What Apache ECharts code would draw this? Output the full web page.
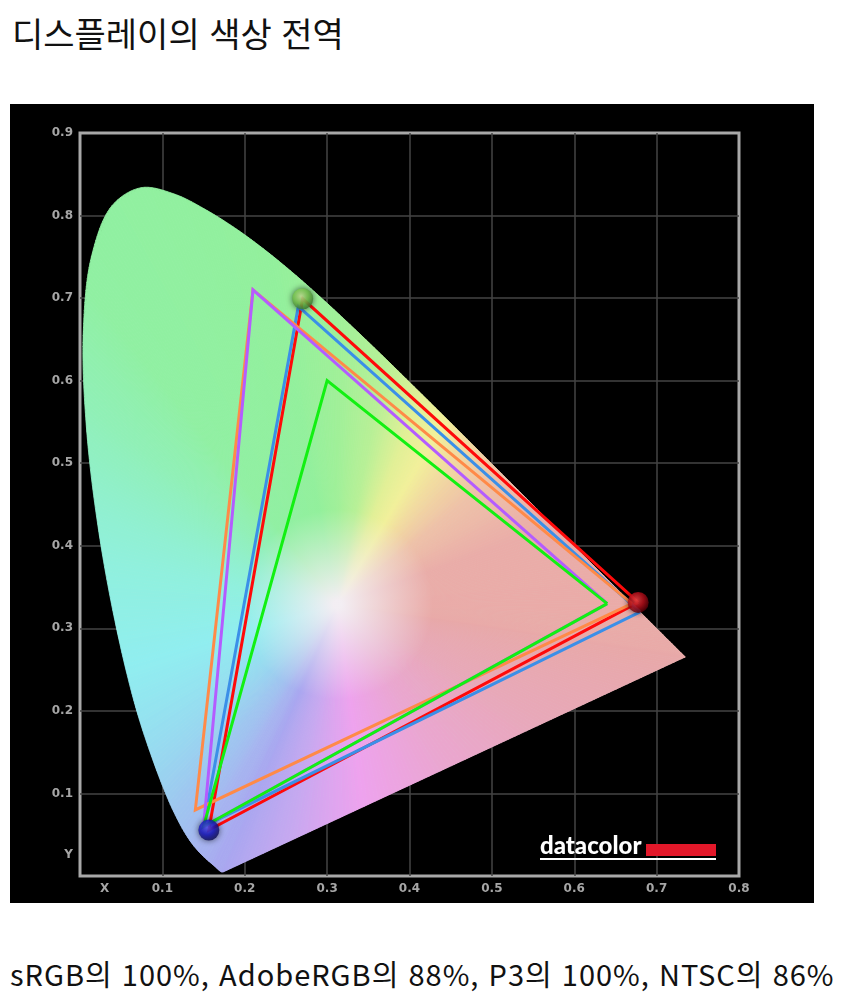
<!DOCTYPE html>
<html lang="ko">
<head>
<meta charset="utf-8">
<title>디스플레이의 색상 전역</title>
<script src="https://cdn.jsdelivr.net/npm/echarts@6/dist/echarts.min.js"></script>
<style>
  html, body { margin: 0; padding: 0; background: #fff; }
  body { width: 845px; height: 1008px; position: relative; overflow: hidden; font-family: "Noto Sans CJK KR", sans-serif; color: #111; }
  #title { position: absolute; left: 12px; top: 10px; font-size: 34px; line-height: 46px; white-space: nowrap; }
  #chart { position: absolute; left: 10px; top: 104px; width: 804px; height: 799px; background: #000; }
  #note { position: absolute; left: 10px; top: 953px; font-size: 29px; line-height: 40px; letter-spacing: 1px; white-space: nowrap; }
</style>
</head>
<body>
<div id="title">디스플레이의 색상 전역</div>
<div id="chart"></div>
<div id="note">sRGB의 100%, AdobeRGB의 88%, P3의 100%, NTSC의 86%</div>
<script>
// CIE 1931 spectral locus, 5 nm steps
const locusNm = [380, 385, 390, 395, 400, 405, 410, 415, 420, 425, 430, 435, 440, 445, 450, 455, 460, 465,
  470, 475, 480, 485, 490, 495, 500, 505, 510, 515, 520, 525, 530, 535, 540, 545, 550, 555, 560, 565,
  570, 575, 580, 585, 590, 595, 600, 605, 610, 615, 620, 625, 630, 635, 640, 645, 650, 655, 660, 665,
  670, 675, 680, 685, 690, 695, 700]
const locusX = [0.1741, 0.1740, 0.1738, 0.1736, 0.1733, 0.1730, 0.1726, 0.1721, 0.1714,
  0.1703, 0.1689, 0.1669, 0.1644, 0.1611, 0.1566, 0.1510, 0.1440, 0.1355,
  0.1241, 0.1096, 0.0913, 0.0687, 0.0454, 0.0235, 0.0082, 0.0039, 0.0139,
  0.0389, 0.0743, 0.1142, 0.1547, 0.1929, 0.2296, 0.2658, 0.3016, 0.3373,
  0.3731, 0.4087, 0.4441, 0.4788, 0.5125, 0.5448, 0.5752, 0.6029, 0.6270,
  0.6482, 0.6658, 0.6801, 0.6915, 0.7006, 0.7079, 0.7140, 0.7190, 0.7230,
  0.7260, 0.7283, 0.7300, 0.7311, 0.7320, 0.7327, 0.7334, 0.7340, 0.7344,
  0.7346, 0.7347]
const locusY = [0.0050, 0.0050, 0.0049, 0.0049, 0.0048, 0.0048, 0.0048, 0.0048, 0.0051,
  0.0058, 0.0069, 0.0086, 0.0109, 0.0138, 0.0177, 0.0227, 0.0297, 0.0399,
  0.0578, 0.0868, 0.1327, 0.2007, 0.2950, 0.4127, 0.5384, 0.6548, 0.7502,
  0.8120, 0.8338, 0.8262, 0.8059, 0.7816, 0.7543, 0.7243, 0.6923, 0.6589,
  0.6245, 0.5896, 0.5547, 0.5202, 0.4866, 0.4544, 0.4242, 0.3965, 0.3725,
  0.3514, 0.3340, 0.3197, 0.3083, 0.2993, 0.2920, 0.2859, 0.2809, 0.2770,
  0.2740, 0.2717, 0.2700, 0.2689, 0.2680, 0.2673, 0.2666, 0.2660, 0.2656,
  0.2654, 0.2653]
const whitePoint = [0.3127, 0.3290]

// gamut triangles, R / G / B corners
const measuredX = [0.6776, 0.2703, 0.1564]
const measuredY = [0.3314, 0.6992, 0.0556]
const p3X = [0.680, 0.265, 0.150]
const p3Y = [0.320, 0.690, 0.060]
const ntscX = [0.670, 0.210, 0.140]
const ntscY = [0.330, 0.710, 0.080]
const adobeX = [0.640, 0.210, 0.150]
const adobeY = [0.330, 0.710, 0.060]
const srgbX = [0.640, 0.300, 0.150]
const srgbY = [0.330, 0.600, 0.060]

const xTicks = [0.03, 0.1, 0.2, 0.3, 0.4, 0.5, 0.6, 0.7, 0.8]
const xTickLabels = ['X', '0.1', '0.2', '0.3', '0.4', '0.5', '0.6', '0.7', '0.8']
const yTicks = [0.025, 0.1, 0.2, 0.3, 0.4, 0.5, 0.6, 0.7, 0.8, 0.9]
const yTickLabels = ['Y', '0.1', '0.2', '0.3', '0.4', '0.5', '0.6', '0.7', '0.8', '0.9']

// fill colours along the outline (nm on the locus, 700..800 along the purple line back to 380)
const hueStops = [
  [380, '#aaa6f0'], [440, '#a8a8f0'], [462, '#a6b4f0'], [474, '#9ec6f0'], [482, '#96dcf0'],
  [488, '#90eef0'], [494, '#90f0dc'], [501, '#90f0b8'], [508, '#90f0a2'], [540, '#92f09c'],
  [552, '#a0f098'], [560, '#b8f096'], [566, '#e2f096'], [570, '#f2f09a'], [574, '#f2daa0'],
  [580, '#eec0a8'], [590, '#eaaca8'], [700, '#e8a8a8'], [730, '#e8a8b8'], [752, '#eaa6d0'],
  [770, '#eea2ee'], [786, '#c6a8f0'], [800, '#aaa6f0']
]
const centerColor = '#f3eef3'

function hexRgb(h) {
  return [parseInt(h.slice(1, 3), 16), parseInt(h.slice(3, 5), 16), parseInt(h.slice(5, 7), 16)]
}
function hueAt(t) {
  let i = 0
  while (i < hueStops.length - 2 && t > hueStops[i + 1][0]) i++
  const [t0, c0] = hueStops[i]
  const [t1, c1] = hueStops[i + 1]
  const f = Math.min(1, Math.max(0, (t - t0) / (t1 - t0)))
  const a = hexRgb(c0)
  const b = hexRgb(c1)
  return 'rgb(' + a.map((v, k) => Math.round(v + (b[k] - v) * f)).join(',') + ')'
}

// one fan item per outline segment: [x1, y1, x2, y2, t1, t2, prev x, prev y, next x, next y]
const fanData = []
const last = locusNm.length - 1
for (let i = 0; i < last; i++) {
  const p = Math.max(0, i - 1)
  const n = Math.min(last, i + 2)
  fanData.push([locusX[i], locusY[i], locusX[i + 1], locusY[i + 1], locusNm[i], locusNm[i + 1],
    locusX[p], locusY[p], locusX[n], locusY[n]])
}
fanData.push([locusX[last], locusY[last], locusX[0], locusY[0], 700, 800,
  locusX[last], locusY[last], locusX[0], locusY[0]])

// centripetal Catmull-Rom between p1 and p2 so the outline is drawn as a smooth curve
function curvePoint(p0, p1, p2, p3, u) {
  const d = (a, b) => Math.pow(Math.hypot(b[0] - a[0], b[1] - a[1]), 0.5) + 1e-4
  const t0 = 0
  const t1 = t0 + d(p0, p1)
  const t2 = t1 + d(p1, p2)
  const t3 = t2 + d(p2, p3)
  const t = t1 + (t2 - t1) * u
  const mix = (a, b, ta, tb) => [
    (tb - t) / (tb - ta) * a[0] + (t - ta) / (tb - ta) * b[0],
    (tb - t) / (tb - ta) * a[1] + (t - ta) / (tb - ta) * b[1]
  ]
  const a1 = mix(p0, p1, t0, t1)
  const a2 = mix(p1, p2, t1, t2)
  const a3 = mix(p2, p3, t2, t3)
  const b1 = mix(a1, a2, t0, t2)
  const b2 = mix(a2, a3, t1, t3)
  return mix(b1, b2, t1, t2)
}

function renderFan(params, api) {
  const a = api.coord([api.value(0), api.value(1)])
  const b = api.coord([api.value(2), api.value(3)])
  let p = api.coord([api.value(6), api.value(7)])
  let q = api.coord([api.value(8), api.value(9)])
  if (Math.hypot(p[0] - a[0], p[1] - a[1]) < 1e-6) p = [2 * a[0] - b[0], 2 * a[1] - b[1]]
  if (Math.hypot(q[0] - b[0], q[1] - b[1]) < 1e-6) q = [2 * b[0] - a[0], 2 * b[1] - a[1]]
  const c = api.coord(whitePoint)
  const t1 = api.value(4)
  const t2 = api.value(5)
  const n = Math.max(1, Math.ceil(Math.hypot(b[0] - a[0], b[1] - a[1]) / 4))
  const children = []
  let prev = a
  for (let k = 0; k < n; k++) {
    const f1 = (k + 1) / n
    const next = k === n - 1 ? b : curvePoint(p, a, b, q, f1)
    const m = [(prev[0] + next[0]) / 2, (prev[1] + next[1]) / 2]
    const len = Math.hypot(m[0] - c[0], m[1] - c[1]) || 1
    const edge = hueAt(t1 + (t2 - t1) * (k + 0.5) / n)
    const grad = new echarts.graphic.LinearGradient(c[0], c[1], m[0], m[1], [
      { offset: 0, color: centerColor },
      { offset: Math.min(0.4, 4 / len), color: centerColor },
      { offset: Math.min(0.97, 95 / len), color: edge },
      { offset: 1, color: edge }
    ], true)
    children.push({
      type: 'polygon',
      shape: { points: [c, prev, next] },
      style: { fill: grad, stroke: grad, lineWidth: 0.8 }
    })
    prev = next
  }
  return { type: 'group', children }
}

function renderBase(params, api) {
  const pts = locusX.map((x, i) => api.coord([x, locusY[i]]))
  return { type: 'polygon', shape: { points: pts }, style: { fill: '#cfe8d8' } }
}

function tri(xs, ys) {
  return [0, 1, 2, 0].map(i => [xs[i], ys[i]])
}
function gamutLine(name, xs, ys, color) {
  return {
    name,
    type: 'line',
    data: tri(xs, ys),
    symbol: 'none',
    silent: true,
    z: 3,
    lineStyle: { color, width: 3, join: 'miter' }
  }
}
function ball(inner, mid, outer) {
  return new echarts.graphic.RadialGradient(0.42, 0.38, 0.62, [
    { offset: 0, color: inner },
    { offset: 0.55, color: mid },
    { offset: 1, color: outer }
  ])
}
function pick(ticks, labels) {
  return function (v) {
    const i = ticks.findIndex(t => Math.abs(t - v) < 1e-6)
    return i < 0 ? '' : labels[i]
  }
}

const labelStyle = { color: '#a6a6a6', fontSize: 12, fontWeight: 'bold', fontFamily: 'DejaVu Sans', margin: 7 }
const splitStyle = { show: true, showMinLine: false, showMaxLine: false, lineStyle: { color: '#454545', width: 1.5 } }

const chart = echarts.init(document.getElementById('chart'))
chart.setOption({
  animation: false,
  backgroundColor: '#000',
  grid: {
    left: 70, right: 75, top: 29, bottom: 27,
    show: true, borderColor: '#a8a8a8', borderWidth: 3
  },
  xAxis: {
    type: 'value', min: 0, max: 0.8, interval: 0.1,
    axisLine: { show: false },
    axisTick: { show: false },
    splitLine: splitStyle,
    axisLabel: Object.assign({ customValues: xTicks, formatter: pick(xTicks, xTickLabels) }, labelStyle)
  },
  yAxis: {
    type: 'value', min: 0, max: 0.9, interval: 0.1,
    axisLine: { show: false },
    axisTick: { show: false },
    splitLine: splitStyle,
    axisLabel: Object.assign({ customValues: yTicks, formatter: pick(yTicks, yTickLabels) }, labelStyle)
  },
  series: [
    { type: 'custom', silent: true, z: 1, data: [0], renderItem: renderBase },
    {
      type: 'custom', silent: true, z: 2, data: fanData, renderItem: renderFan,
      encode: { x: [0, 2], y: [1, 3] }
    },
    gamutLine('measured', measuredX, measuredY, '#ff0a0a'),
    gamutLine('P3', p3X, p3Y, '#3b8fe8'),
    gamutLine('NTSC', ntscX, ntscY, '#ff8a48'),
    gamutLine('AdobeRGB', adobeX, adobeY, '#b45cff'),
    gamutLine('sRGB', srgbX, srgbY, '#12f012'),
    {
      type: 'scatter',
      silent: true,
      z: 4,
      symbolSize: 21,
      itemStyle: { shadowBlur: 6, shadowColor: 'rgba(0,0,0,0.75)' },
      data: [
        { value: [measuredX[0], measuredY[0]], itemStyle: { color: ball('#ff4a4a', '#c0101c', '#5a0008') } },
        { value: [measuredX[1], measuredY[1]], itemStyle: { color: ball('#d4f6a4', '#7ccc50', '#3a7a2e') } },
        { value: [measuredX[2], measuredY[2]], itemStyle: { color: ball('#5a5aff', '#1a1ac8', '#0a0a55') } }
      ]
    }
  ],
  graphic: [
    {
      type: 'text', left: 530, top: 730, z: 10, silent: true,
      style: { text: 'datacolor', fill: '#fff', font: '900 24px Lato' }
    },
    { type: 'rect', left: 636, top: 740, z: 10, silent: true, shape: { width: 70, height: 12 }, style: { fill: '#e3182a' } },
    { type: 'rect', left: 530, top: 754, z: 10, silent: true, shape: { width: 176, height: 2 }, style: { fill: '#fff' } }
  ]
})
</script>
</body>
</html>
